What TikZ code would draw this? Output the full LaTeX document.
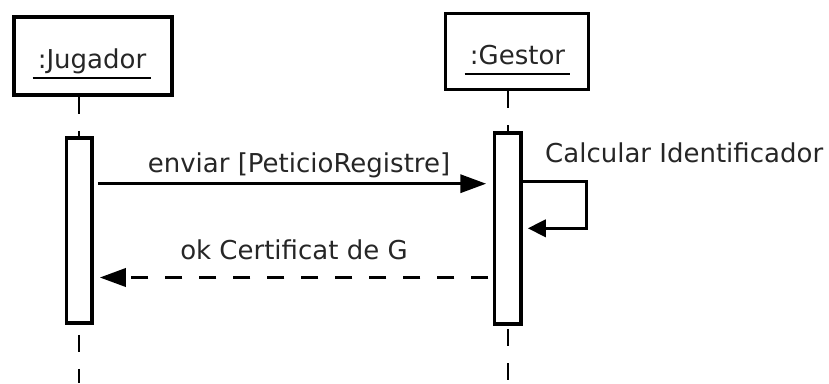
\documentclass[tikz,border=0pt]{standalone}
\usepackage{fontspec}
\setmainfont{DejaVu Sans}
\usepackage{tikz}
\usetikzlibrary{arrows.meta,backgrounds}
\tikzset{
  objbox/.style   = {draw, line width=3.5pt, inner sep=0pt},
  objname/.style  = {anchor=base, inner xsep=5pt, inner ysep=0pt, text=black!85,
                     font=\fontsize{26}{30}\selectfont},
  uline/.style    = {line width=2pt},
  lifeline/.style = {line width=2pt, dash pattern=on 17pt off 17pt},
  activ/.style    = {draw, fill=white, line width=3.5pt, inner sep=0pt, outer sep=0pt},
  msg/.style      = {-{Triangle[length=26pt,width=18pt]}, line width=3.5pt},
  reply/.style    = {msg, dash pattern=on 17pt off 17pt},
  selfmsg/.style  = {-{Triangle[length=18pt,width=17pt]}, line width=3.5pt},
  msglab/.style   = {anchor=base, inner sep=0pt, text=black!85,
                     font=\fontsize{26}{30}\selectfont},
}

\begin{document}
\begin{tikzpicture}[x=1pt, y=-1pt]
  \useasboundingbox (0,0) rectangle (829,383);
  % objects
  \node[objbox, minimum width=158pt, minimum height=78pt] (jug) at (93,56) {};
  \node[objbox, minimum width=143pt, minimum height=76pt] (ges) at (517,51.5) {};
  \node[objname] (jugt) at (92,68.3) {:Jugador};
  \node[objname] (gest) at (517.5,64) {:Gestor};
  \draw[uline] ([yshift=-10pt]jugt.base west) -- ([yshift=-10pt]jugt.base east);
  \draw[uline] ([yshift=-10pt]gest.base west) -- ([yshift=-10pt]gest.base east);

  % activations
  \node[activ, minimum width=25.5pt, minimum height=185pt] (a1) at (79,230.5) {};
  \node[activ, minimum width=26.5pt, minimum height=191pt] (a2) at (507.5,228.7) {};

  \coordinate (bot) at (0,383);
  \begin{scope}[on background layer]
    \draw[lifeline] (jug.south -| a1.center) -- (a1.center |- bot);
    \draw[lifeline] (ges.south -| a2.center) -- (a2.center |- bot);
  \end{scope}

  % messages
  \coordinate (m1) at (0,183.7);
  \coordinate (m2) at (0,277.5);
  \coordinate (s1) at (586.7,181.7);
  \coordinate (s2) at (586.7,228.3);
  \draw[msg, shorten <=6pt, shorten >=8pt] (a1.east |- m1) -- (a2.west |- m1);
  \draw[reply, shorten <=6pt, shorten >=8pt] (a2.west |- m2) -- (a1.east |- m2);
  \draw[selfmsg, shorten >=7pt] (a2.east |- s1) -- (s1) -- (s2) -- (a2.east |- s2);

  \node[msglab] (l1) at (299,172) {enviar [PeticioRegistre]};
  \node[msglab] (l2) at (294,259) {ok Certificat de G};
  \node[msglab, anchor=base west] (l3) at (545,162.7) {Calcular Identificador};
\end{tikzpicture}
\end{document}
